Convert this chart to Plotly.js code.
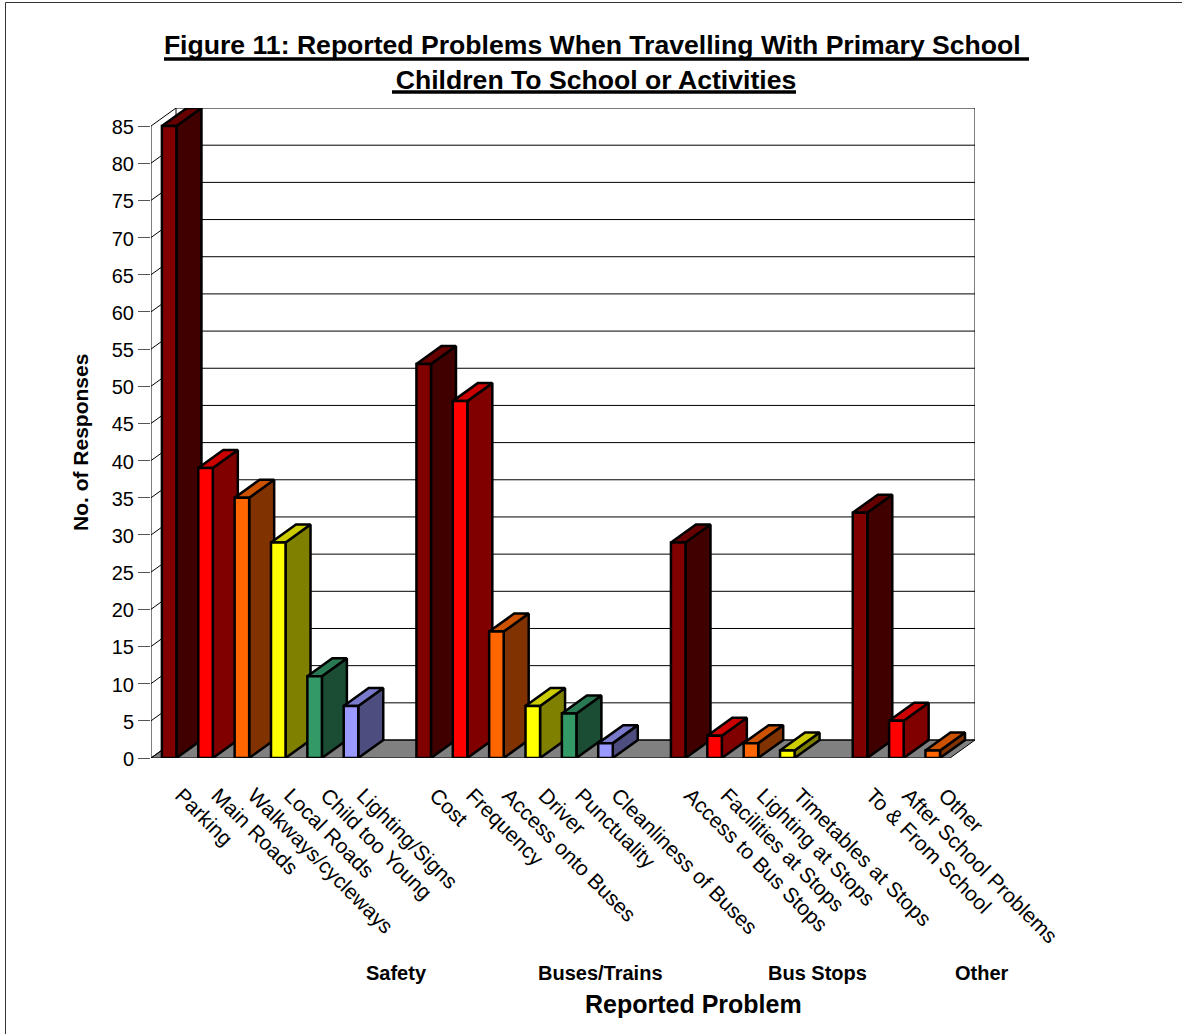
<!DOCTYPE html>
<html>
<head>
<meta charset="utf-8">
<script src="https://cdn.plot.ly/plotly-3.0.1.min.js"></script>
<style>html,body{margin:0;padding:0;background:#fff}#chart{width:1182px;height:1034px}</style>
</head>
<body>
<div id="chart"></div>
<script>
// Survey responses per reported problem; blank slots separate the four groups.
const categories = ["Parking","Main Roads","Walkways/cycleways","Local Roads","Child too Young","Lighting/Signs","",
  "Cost","Frequency","Access onto Buses","Driver","Punctuality","Cleanliness of Buses","",
  "Access to Bus Stops","Facilities at Stops","Lighting at Stops","Timetables at Stops","",
  "To & From School","After School Problems","Other"];
const responses = [85,39,35,29,11,7,null, 53,48,17,7,6,2,null, 29,3,2,1,null, 33,5,1];
const groupLabels = ["Safety","Buses/Trains","Bus Stops","Other"];
const groupLabelCentres = [396,600,817,982];

// Face colours repeat within each group.
const frontColours = ["#800000","#ff0000","#ff6600","#ffff00","#339966","#9999ff"];
const topColours   = ["#660000","#cc0000","#cc5200","#cccc00","#297a52","#7a7acc"];
const sideColours  = ["#400000","#800000","#803300","#808000","#1a4d33","#4d4d80"];

const W = 1182, H = 1034;
const plot = {l:151, r:975, t:108, b:758};
const pxPerSlot = 36.36, pxPerUnit = 7.435;
const depthX = 25 / pxPerSlot, depthY = 18 / pxPerUnit;
const xMax = (plot.r - plot.l) / pxPerSlot, yMax = (plot.b - plot.t) / pxPerUnit;
const topTick = 85, tickStep = 5, barWidth = 0.4;
const yTicks = [];
for (let v = 0; v <= topTick; v += tickStep) yTicks.push(v);

// Page pixels to the plot-area fractions that paper references use.
const px = x => (x - plot.l) / (plot.r - plot.l);
const py = y => (plot.b - y) / (plot.b - plot.t);
const poly = (xs, ys, fill, lw, colour) => ({
  type:'scatter', mode:'lines', x:xs, y:ys, fill:'toself', fillcolor:fill,
  line:{color:colour || '#000', width:lw}, hoverinfo:'skip', showlegend:false, cliponaxis:false
});
const lines = (xs, ys, colour, lw) => ({
  type:'scatter', mode:'lines', x:xs, y:ys, line:{color:colour, width:lw},
  hoverinfo:'skip', showlegend:false, cliponaxis:false, connectgaps:false
});

const traces = [];

// Floor, then wall gridlines, side-wall diagonals and the outer frame.
traces.push(poly([0,xMax-depthX,xMax,depthX,0],[0,0,depthY,depthY,0],'#808080',1));
const gx = [], gy = [], dxs = [], dys = [];
yTicks.forEach(v => {
  gx.push(depthX, xMax, null); gy.push(v+depthY, v+depthY, null);
  dxs.push(0, depthX, null); dys.push(v, v+depthY, null);
});
traces.push(lines(gx, gy, '#000', 1));
traces.push(lines(dxs, dys, '#000', 1));
traces.push(lines([0,0,null,depthX,depthX,null,xMax,xMax],
  [0,topTick,null,depthY,topTick+depthY,null,depthY,topTick+depthY], '#000', 1));

// Oblique faces of each bar, left to right so nearer faces overlap correctly.
let colourIndex = 0;
const barX = [], barY = [], barColours = [];
categories.forEach((name, i) => {
  const v = responses[i];
  if (v === null) { colourIndex = 0; return; }
  const c = i + 0.5, a = c - barWidth/2, b = c + barWidth/2;
  traces.push(poly([b,b+depthX,b+depthX,b,b],[0,depthY,v+depthY,v,0],sideColours[colourIndex],2.5));
  traces.push(poly([a,b,b+depthX,a+depthX,a],[v,v,v+depthY,v+depthY,v],topColours[colourIndex],2.5));
  barX.push(c); barY.push(v); barColours.push(frontColours[colourIndex]);
  colourIndex++;
});

// Front faces sit above every oblique face.
traces.push({
  type:'bar', x:barX, y:barY, width:barWidth, zorder:5, cliponaxis:false,
  marker:{color:barColours, line:{color:'#000', width:2.5}},
  hoverinfo:'skip', showlegend:false
});

const font = 'Liberation Sans, Arial, sans-serif';
const boldLabel = (text, x, y, size, angle) => ({
  text:'<b>'+text+'</b>', xref:'paper', yref:'paper', x:px(x), y:py(y),
  xanchor:'center', yanchor:'middle', showarrow:false, textangle:angle || 0,
  font:{family:font, size:size, color:'#000'}
});
const rule = (x0, y0, x1, y1, colour, width) => ({
  type:'line', xref:'paper', yref:'paper', x0:px(x0), x1:px(x1), y0:py(y0), y1:py(y1),
  line:{color:colour, width:width}
});

const layout = {
  width:W, height:H, autosize:false, showlegend:false, bargap:0,
  paper_bgcolor:'#fff', plot_bgcolor:'rgba(0,0,0,0)',
  margin:{l:plot.l, r:W-plot.r, t:plot.t, b:H-plot.b, pad:0},
  font:{family:font, color:'#000'},
  title:{
    text:'<b>Figure 11: Reported Problems When Travelling With Primary School&#160;<br>Children To School or Activities</b>',
    x:596/W, xanchor:'center', xref:'container', y:1-54/H, yanchor:'top', yref:'container',
    font:{family:font, size:26.6, color:'#000'}
  },
  xaxis:{
    range:[0,xMax], fixedrange:true, showgrid:false, zeroline:false, showline:false,
    tickmode:'array',
    tickvals:categories.map((n,i)=>n ? i+0.5 : null).filter(v=>v!==null),
    ticktext:categories.filter(n=>n),
    tickangle:45, ticks:'', ticklabelstandoff:20, ticklabelshift:12,
    tickfont:{family:font, size:21, color:'#000'}
  },
  yaxis:{
    range:[0,yMax], fixedrange:true, showgrid:false, zeroline:false, showline:false,
    tickmode:'array', tickvals:yTicks, ticks:'outside', ticklen:12, tickwidth:1, tickcolor:'#555',
    ticklabelshift:1,
    tickfont:{family:font, size:20, color:'#000'}
  },
  annotations:[
    boldLabel('No. of Responses', 81, 443, 21, -90),
    boldLabel('Reported Problem', 693, 1004, 25)
  ].concat(groupLabels.map((t,i)=>boldLabel(t, groupLabelCentres[i], 973, 20))),
  shapes:[
    // Page frame along the top and left edges.
    rule(5.5, 2.5, W, 2.5, '#333', 1),
    rule(5.5, 2.5, 5.5, H, '#333', 1),
    // Heavy title underlines.
    rule(164, 59, 1029, 59, '#000', 3.5),
    rule(392, 92, 796, 92, '#000', 3.5)
  ]
};

Plotly.newPlot('chart', traces, layout, {displayModeBar:false, staticPlot:true});
</script>
</body>
</html>
